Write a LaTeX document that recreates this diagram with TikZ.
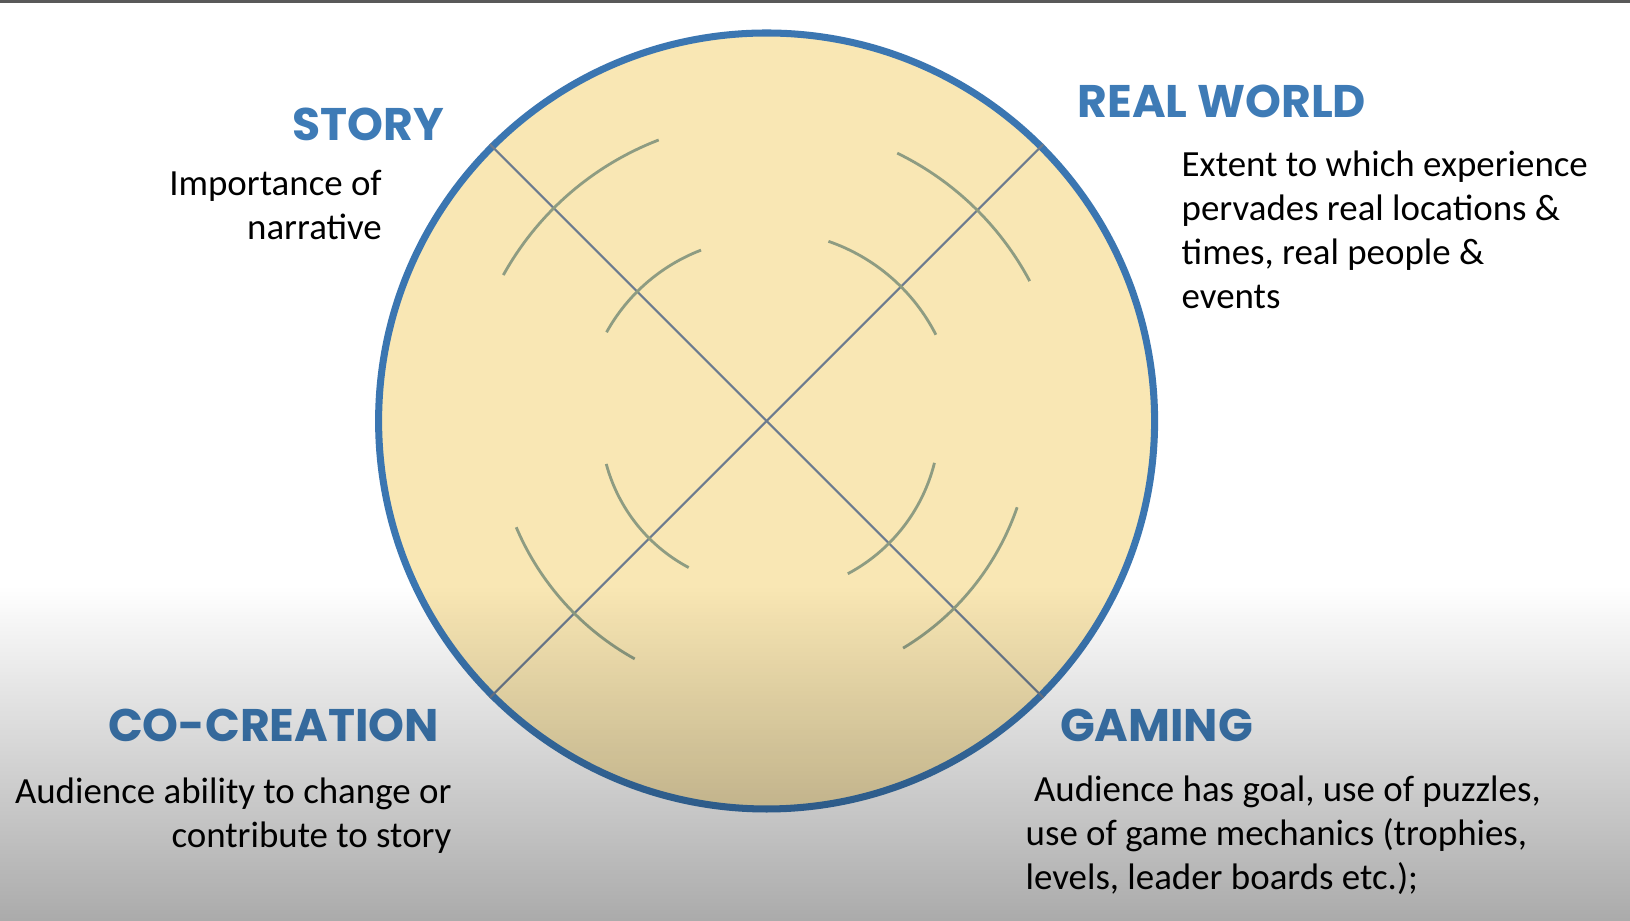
\documentclass[tikz,border=0pt]{standalone}
\usepackage{fontspec}
\setmainfont{Carlito}
\newfontfamily\headfont{Poppins}
\usetikzlibrary{fadings}
\definecolor{headblue}{HTML}{3E7BB6}
\definecolor{rimblue}{HTML}{3B76B1}
\definecolor{sand}{HTML}{F9E7B4}
\definecolor{slate}{HTML}{6C7B8F}
\definecolor{sage}{HTML}{8E9C82}
\tikzfading[name=fadeup, top color=transparent!100, bottom color=transparent!0]
\tikzset{
  heading/.style={font=\headfont\bfseries\fontsize{13}{15}\selectfont, text=headblue, inner sep=0pt},
  desc/.style={font=\fontsize{10.5}{12.5}\selectfont, inner sep=0pt},
  rim/.style={circle, draw=rimblue, line width=2pt, fill=sand, minimum size=7.76cm, inner sep=0pt},
  diag/.style={draw=slate, line width=0.6pt},
  wave/.style={draw=sage, line width=0.8pt}
}

\begin{document}
\begin{tikzpicture}
  \useasboundingbox (0,0) rectangle (16.3,9.21);
  \fill[white] (0,0) rectangle (16.3,9.21);
  \fill[black!65] (0,9.18) rectangle (16.3,9.21);

  \node[rim] (c) at (7.666,5.0) {};
  \draw[diag] (c.135) -- (c.-45);
  \draw[diag] (c.45) -- (c.-135);

  % ripples, two per quarter
  \draw[wave] ([shift={(151:3.01)}]c.center) arc[start angle=151, end angle=111, radius=3.01];
  \draw[wave] ([shift={(151:1.83)}]c.center) arc[start angle=151, end angle=111, radius=1.83];
  \draw[wave] ([shift={(64:2.98)}]c.center) arc[start angle=64, end angle=28, radius=2.98];
  \draw[wave] ([shift={(71:1.90)}]c.center) arc[start angle=71, end angle=27, radius=1.90];
  \draw[wave] ([shift={(203:2.72)}]c.center) arc[start angle=203, end angle=241, radius=2.72];
  \draw[wave] ([shift={(195:1.66)}]c.center) arc[start angle=195, end angle=242, radius=1.66];
  \draw[wave] ([shift={(301:2.65)}]c.center) arc[start angle=301, end angle=341, radius=2.65];
  \draw[wave] ([shift={(298:1.73)}]c.center) arc[start angle=298, end angle=346, radius=1.73];

  % labels (multi-line texts sit on their last baseline)
  \node[heading, anchor=base east] (story) at (4.449,7.807) {STORY};
  \node[desc, anchor=base east, align=right] (storytxt) at (3.825,6.819) {Importance of\\narrative};
  \node[heading, anchor=base west] (real) at (10.77,8.035) {REAL WORLD};
  \node[desc, anchor=base west, align=left] (realtxt) at (11.81,6.123) {Extent to which experience\\pervades real locations \&\\times, real people \&\\events};
  \node[heading, anchor=base east] (cocreate) at (4.397,1.798) {CO-CREATION};
  \node[desc, anchor=base east, align=right] (cocreatetxt) at (4.522,0.738) {Audience ability to change or\\contribute to story};
  \node[heading, anchor=base west] (gaming) at (10.593,1.798) {GAMING};
  \node[desc, anchor=base west, align=left] (gamingtxt) at (10.25,0.319) {\ Audience has goal, use of puzzles,\\use of game mechanics (trophies,\\levels, leader boards etc.);};

  % grey wash over the lower part
  \fill[black, opacity=0.34, path fading=fadeup] (-0.1,-0.1) rectangle (16.4,3.35);
\end{tikzpicture}
\end{document}
